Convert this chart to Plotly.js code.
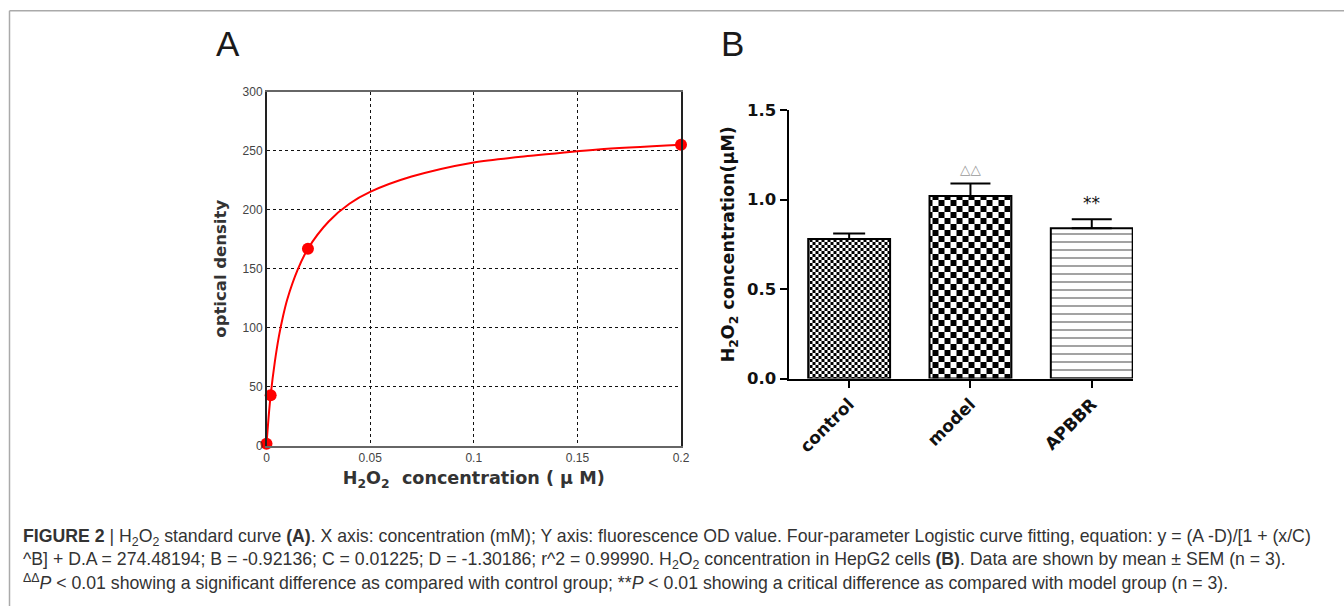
<!DOCTYPE html>
<html>
<head>
<meta charset="utf-8">
<script src="https://cdn.plot.ly/plotly-3.0.1.min.js"></script>
<style>
html,body{margin:0;padding:0;background:#fff;}
#chart{width:1344px;height:606px;}
</style>
</head>
<body>
<div id="chart"></div>
<script>
// Panel A: standard curve
const concPoints = [0, 0.002, 0.02, 0.2];
const odPoints = [2, 43, 167, 255];
const curveConc = [0, 0.001, 0.002, 0.004, 0.006, 0.008, 0.01, 0.015, 0.02, 0.03, 0.04, 0.05, 0.07, 0.1, 0.13, 0.16, 0.2];
const curveOD = [2, 24, 43, 71, 93, 110, 124, 149, 167, 190, 205, 215, 228, 240, 246, 251, 255];
const xTicksA = [0, 0.05, 0.1, 0.15, 0.2];
const xTickTextA = ['0', '0.05', '0.1', '0.15', '0.2'];
const yTicksA = [0, 50, 100, 150, 200, 250, 300];

// Panel B: H2O2 in HepG2 cells
const groups = ['control', 'model', 'APBBR'];
const means = [0.78, 1.02, 0.84];
const sems = [0.03, 0.07, 0.05];
const marks = ['', '△△', '**'];
const yTicksB = [0, 0.5, 1.0, 1.5];

const W = 1344, H = 606;
const px = v => v / W;
const py = v => 1 - v / H;

const data = [
  {
    type: 'scatter', mode: 'lines', x: curveConc, y: curveOD,
    xaxis: 'x', yaxis: 'y',
    line: {color: '#ff0000', width: 2, shape: 'spline', smoothing: 0.8},
    cliponaxis: false, hoverinfo: 'skip'
  },
  {
    type: 'scatter', mode: 'markers', x: concPoints, y: odPoints,
    xaxis: 'x', yaxis: 'y',
    marker: {color: '#ff0000', size: 12, symbol: 'circle'},
    cliponaxis: false
  }
];

const patterns = [
  {shape: '+', size: 6, solidity: 0.5, fgcolor: '#000', bgcolor: '#fff', fillmode: 'overlay'},
  {shape: '+', size: 12, solidity: 0.5, fgcolor: '#000', bgcolor: '#fff', fillmode: 'overlay'},
  {shape: '-', size: 8, solidity: 0.18, fgcolor: '#000', bgcolor: '#fff', fillmode: 'overlay'}
];
const capHalf = [16, 20, 20];

groups.forEach((g, i) => {
  data.push({
    type: 'bar', x: [g], y: [means[i]], xaxis: 'x2', yaxis: 'y2',
    width: 0.675,
    marker: {color: '#fff', line: {color: '#000', width: 2}, pattern: patterns[i]},
    error_y: {type: 'data', symmetric: false, array: [sems[i]], arrayminus: [0], color: '#000', thickness: 2, width: capHalf[i]},
    cliponaxis: false
  });
});

const capFont = {family: 'Liberation Sans, Arial', size: 17.7, color: '#333'};
const annotations = [
  {text: 'A', x: px(214), y: py(43), xref: 'paper', yref: 'paper', xanchor: 'left', yanchor: 'middle', showarrow: false,
   font: {family: 'Liberation Sans, Arial', size: 35, color: '#1a1a1a'}},
  {text: 'B', x: px(719), y: py(44), xref: 'paper', yref: 'paper', xanchor: 'left', yanchor: 'middle', showarrow: false,
   font: {family: 'Liberation Sans, Arial', size: 35, color: '#1a1a1a'}},
  {text: '<b>FIGURE 2</b> | H<sub>2</sub>O<sub>2</sub> standard curve <b>(A)</b>. X axis: concentration (mM); Y axis: fluorescence OD value. Four-parameter Logistic curve fitting, equation: y = (A -D)/[1 + (x/C)',
   x: px(21), y: py(537), xref: 'paper', yref: 'paper', xanchor: 'left', yanchor: 'middle', align: 'left', showarrow: false,
   font: capFont},
  {text: '^B] + D.A = 274.48194; B = -0.92136; C = 0.01225; D = -1.30186; r^2 = 0.99990. H<sub>2</sub>O<sub>2</sub> concentration in HepG2 cells <b>(B)</b>. Data are shown by mean ± SEM (n = 3).',
   x: px(21), y: py(560), xref: 'paper', yref: 'paper', xanchor: 'left', yanchor: 'middle', align: 'left', showarrow: false,
   font: capFont},
  {text: '<sup>ΔΔ</sup><i>P</i> &lt; 0.01 showing a significant difference as compared with control group; **<i>P</i> &lt; 0.01 showing a critical difference as compared with model group (n = 3).',
   x: px(21), y: py(582), xref: 'paper', yref: 'paper', xanchor: 'left', yanchor: 'middle', align: 'left', showarrow: false,
   font: capFont}
];

groups.forEach((g, i) => {
  if (!marks[i]) return;
  annotations.push({
    text: marks[i], x: g, y: means[i] + sems[i], xref: 'x2', yref: 'y2',
    xanchor: 'center', yanchor: 'bottom', yshift: 4, showarrow: false,
    font: i === 1 ? {family: 'DejaVu Sans', size: 13.5, color: '#999'} : {family: 'DejaVu Sans', size: 17, color: '#111'}
  });
});

const layout = {
  width: W, height: H,
  margin: {l: 0, r: 0, t: 0, b: 0},
  paper_bgcolor: '#fff', plot_bgcolor: '#fff',
  showlegend: false,
  barmode: 'overlay',
  font: {family: 'Liberation Sans, Arial', color: '#333'},
  xaxis: {
    domain: [px(266.5), px(681)], range: [0, 0.2], anchor: 'y',
    tickvals: xTicksA, ticktext: xTickTextA, ticks: '',
    tickfont: {family: 'Liberation Sans, Arial', size: 12, color: '#444'},
    showgrid: true, gridcolor: '#111', gridwidth: 1, griddash: '3px,3px',
    showline: true, linecolor: '#666', linewidth: 1.5, mirror: true, zeroline: false,
    title: {text: '<b>H<sub>2</sub>O<sub>2</sub>  concentration ( µ M)</b>', standoff: 8,
            font: {family: 'DejaVu Sans', size: 17.6, color: '#333'}}
  },
  yaxis: {
    domain: [py(446), py(91.5)], range: [0, 300], anchor: 'x',
    tickvals: yTicksA, ticks: '',
    tickfont: {family: 'Liberation Sans, Arial', size: 12, color: '#444'},
    showgrid: true, gridcolor: '#111', gridwidth: 1, griddash: '3px,3px',
    showline: true, linecolor: '#222', linewidth: 1.5, mirror: true, zeroline: false,
    title: {text: '<b>optical density</b>', standoff: 12,
            font: {family: 'DejaVu Sans', size: 16.5, color: '#333'}}
  },
  xaxis2: {
    domain: [px(788.5), px(1133)], range: [-0.5, 2.34], anchor: 'y2', type: 'category',
    ticks: 'outside', ticklen: 7, tickwidth: 2, tickcolor: '#000', tickangle: -45,
    tickfont: {family: 'DejaVu Sans', size: 17, color: '#111', weight: 'bold'},
    showline: true, linecolor: '#000', linewidth: 2, showgrid: false, zeroline: false
  },
  yaxis2: {
    domain: [py(378.5), py(110)], range: [0, 1.5], anchor: 'x2',
    tickvals: yTicksB, tickformat: '.1f',
    ticks: 'outside', ticklen: 7, tickwidth: 2, tickcolor: '#000',
    tickfont: {family: 'DejaVu Sans', size: 16.5, color: '#111', weight: 'bold'},
    showline: true, linecolor: '#000', linewidth: 2, showgrid: false, zeroline: false,
    title: {text: '<b>H<sub>2</sub>O<sub>2</sub> concentration(μM)</b>', standoff: 8,
            font: {family: 'DejaVu Sans', size: 17.5, color: '#111'}}
  },
  shapes: [
    {type: 'line', xref: 'paper', yref: 'paper', x0: px(9.5), x1: 1, y0: py(10.7), y1: py(10.7), line: {color: '#aaa', width: 1.5}},
    {type: 'line', xref: 'paper', yref: 'paper', x0: px(9.5), x1: px(9.5), y0: py(10.7), y1: 0, line: {color: '#aaa', width: 1.5}}
  ],
  annotations: annotations
};

Plotly.newPlot('chart', data, layout, {staticPlot: true, displayModeBar: false}).then(gd => {
  const NS = 'http://www.w3.org/2000/svg';
  const svg = gd.querySelector('svg.main-svg');
  let defs = svg.querySelector('defs');
  if (!defs) { defs = document.createElementNS(NS, 'defs'); svg.insertBefore(defs, svg.firstChild); }
  function rect(x, y, w, h, c) {
    const r = document.createElementNS(NS, 'rect');
    r.setAttribute('x', x); r.setAttribute('y', y); r.setAttribute('width', w); r.setAttribute('height', h);
    r.setAttribute('fill', c);
    return r;
  }
  function checker(id, c) {
    const p = document.createElementNS(NS, 'pattern');
    p.setAttribute('id', id); p.setAttribute('patternUnits', 'userSpaceOnUse');
    p.setAttribute('width', 2 * c); p.setAttribute('height', 2 * c);
    p.appendChild(rect(0, 0, 2 * c, 2 * c, '#fff'));
    p.appendChild(rect(0, 0, c, c, '#000'));
    p.appendChild(rect(c, c, c, c, '#000'));
    defs.appendChild(p);
  }
  checker('chkFine', 3);
  checker('chkBold', 6);
  const traces = gd.querySelectorAll('.barlayer .trace');
  const ids = ['chkFine', 'chkBold'];
  traces.forEach((t, i) => {
    if (i < 2) t.querySelectorAll('path').forEach(p => { p.style.fill = 'url(#' + ids[i] + ')'; });
  });
});
</script>
</body>
</html>
